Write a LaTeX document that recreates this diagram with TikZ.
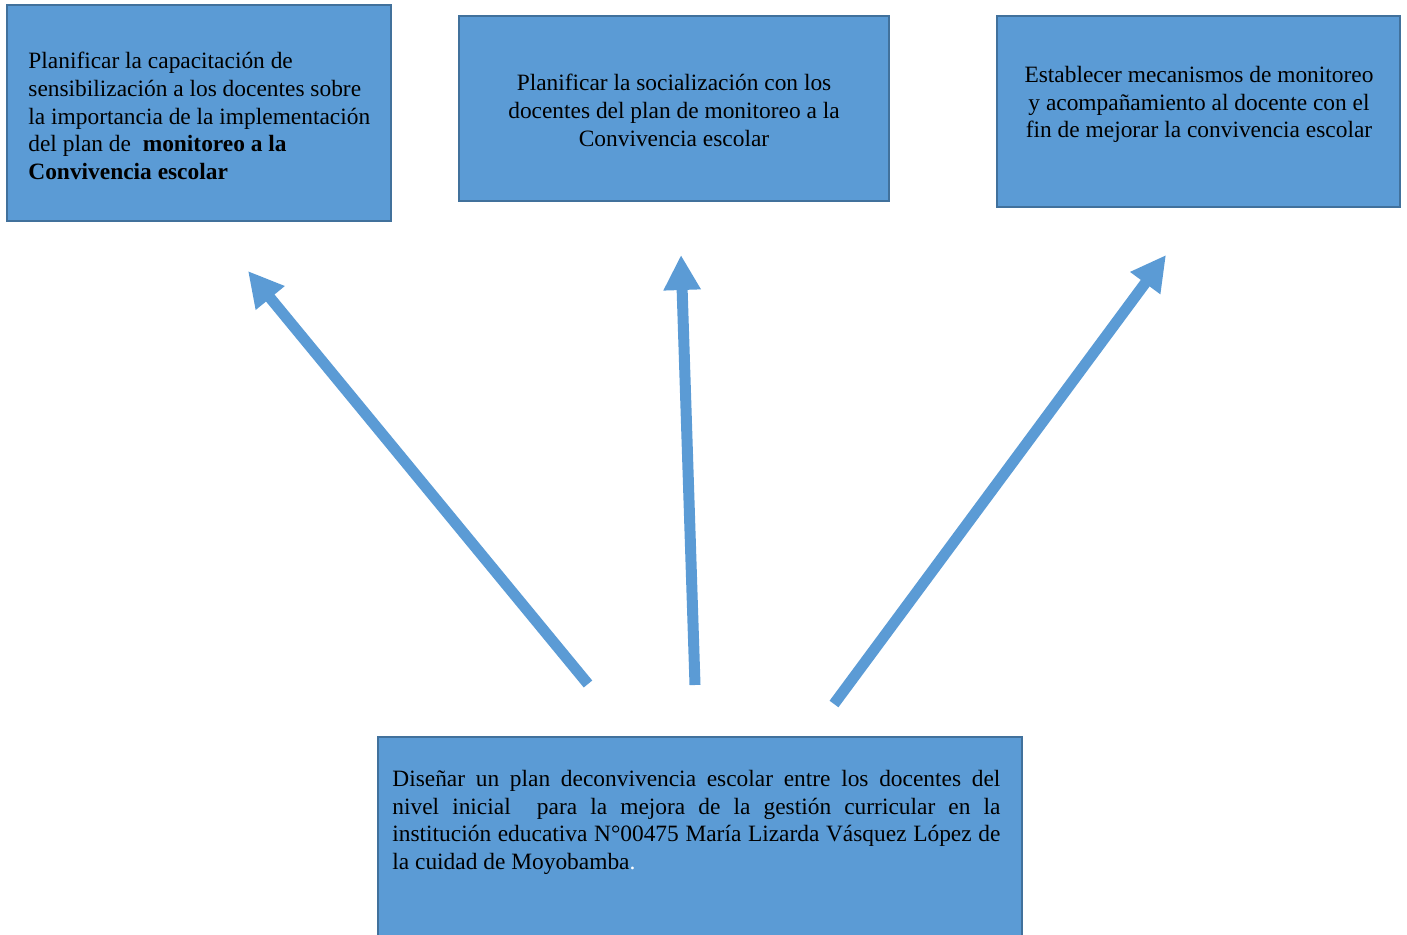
\documentclass[tikz,border=0pt]{standalone}
\usepackage{fontspec}
\setmainfont{Liberation Serif}
\usetikzlibrary{arrows.meta}

\definecolor{boxblue}{RGB}{91,155,213}
\definecolor{boxedge}{RGB}{65,113,156}

\begin{document}
\begin{tikzpicture}[
        x=0.5pt, y=-0.5pt,
        box/.style={
            rectangle,
            draw=boxedge,
            fill=boxblue,
            line width=1pt,
            inner sep=0pt,
        },
        txt/.style={
            inner sep=0pt,
            font=\fontsize{11.7}{13.8}\selectfont,
        },
        bigarrow/.style={
            draw=boxblue,
            line width=5.5pt,
            -{Triangle[length=17.5pt,width=17.5pt]},
        },
    ]

    \useasboundingbox (0,0) rectangle (1407,935);

    \node (B1) at (199,113) [box, minimum width=192pt, minimum height=108pt] {};
    \node (B2) at (674,108.5) [box, minimum width=215pt, minimum height=92.5pt] {};
    \node (B3) at (1198.5,111.5) [box, minimum width=201.5pt, minimum height=95.5pt] {};
    \node (B4) at (700,841) [box, minimum width=322pt, minimum height=104pt] {};

    \node (T1) at (28,52) [txt, anchor=north west, align=left]
        {Planificar la capacitación de\\
         sensibilización a los docentes sobre\\
         la importancia de la implementación\\
         del plan de\ \ \textbf{monitoreo a la}\\
         \textbf{Convivencia escolar}};
    \node (T2) at (674,74) [txt, anchor=north, align=center]
        {Planificar la socialización con los\\
         docentes del plan de monitoreo a la\\
         Convivencia escolar};
    \node (T3) at (1199,66) [txt, anchor=north, align=center]
        {Establecer mecanismos de monitoreo\\
         y acompañamiento al docente con el\\
         fin de mejorar la convivencia escolar};
    \node (T4) at (392,770) [txt, anchor=north west, text width=304pt, align=justify]
        {Diseñar un plan deconvivencia escolar entre los docentes del\linebreak
         nivel inicial\ \ para la mejora de la gestión curricular en la\linebreak
         institución educativa N°00475 María Lizarda Vásquez López de\linebreak
         la cuidad de Moyobamba{\color{white}.}};

    \coordinate (A1s) at (588,684);
    \coordinate (A1e) at (248,271);
    \coordinate (A2s) at (695,685);
    \coordinate (A2e) at (681,255);
    \coordinate (A3s) at (834,704);
    \coordinate (A3e) at (1166,255);

    \draw [bigarrow] (A1s) -- (A1e);
    \draw [bigarrow] (A2s) -- (A2e);
    \draw [bigarrow] (A3s) -- (A3e);

\end{tikzpicture}
\end{document}
